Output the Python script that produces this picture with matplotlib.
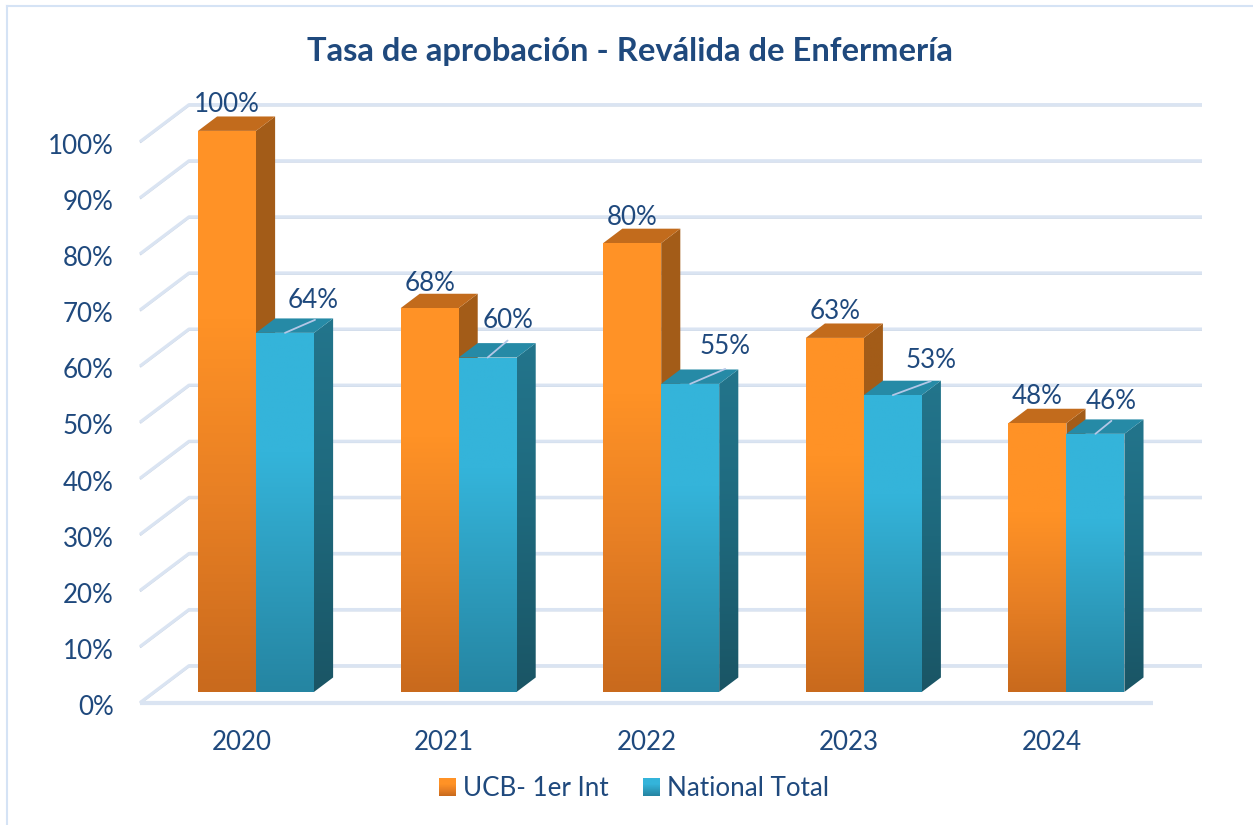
import matplotlib
matplotlib.use('Agg')  # Headless backend
import matplotlib.pyplot as plt
import numpy as np
from matplotlib.colors import LinearSegmentedColormap
from matplotlib.image import BboxImage
from matplotlib.legend_handler import HandlerBase
from matplotlib.patches import Patch, Polygon
from matplotlib.transforms import Bbox, ScaledTranslation, TransformedBbox

years = ['2020', '2021', '2022', '2023', '2024']
ucb_values = [100, 68.4, 80, 63.1, 47.9]
national_values = [64, 59.6, 54.9, 52.9, 46]
y_ticks = list(range(0, 101, 10))

# label nudges in pixels, from the middle of each bar's top front edge
ucb_nudge = [(0, 26), (0, 25), (0, 26), (0, 26), (0, 27)]
national_nudge = [(28, 32), (20, 37), (35, 37), (38, 35), (16, 32)]
leader_end = [(30, 13), (20, 17), (35, 15), (38, 14), (16, 13)]

TEXT = '#1F497D'
GRID = '#DAE4F2'
GRID_EDGE = '#C4CFDF'
FRAME = '#D5E3F5'
FONT = ['Lato', 'DejaVu Sans']
SIZE = 18.7

# pixel geometry of the fake 3D box
W, H = 1253, 825
LEFT, RIGHT, TOP, BOTTOM = 140, 1153, 142, 703
PX_X = (RIGHT - LEFT) / 5
PX_Y = (BOTTOM - TOP) / 100
WALL_X, WALL_Y = 49 / PX_X, 37 / PX_Y
BAR_W = 58 / PX_X
D_FRONT, D_BACK = 0.30, 0.69

orange_front = LinearSegmentedColormap.from_list('of', ['#C96A1D', '#E77F24', '#FF9226', '#FF9226'])
orange_side = LinearSegmentedColormap.from_list('os', ['#8A4E15', '#A35C18', '#A35C18'])
blue_front = LinearSegmentedColormap.from_list('bf', ['#2585A2', '#2D9CBD', '#34B4DA', '#34B4DA'])
blue_side = LinearSegmentedColormap.from_list('bs', ['#1A5565', '#1E687C', '#23758C'])
ORANGE_TOP = '#C26B1C'
BLUE_TOP = '#268AA6'
LEADER = '#B4C7E7'


def proj(x, y, d):
    return x + d * WALL_X, y + d * WALL_Y


def gradient_poly(ax, pts, cmap, z):
    xs = [p[0] for p in pts]
    ys = [p[1] for p in pts]
    grad = np.linspace(1, 0, 128).reshape(-1, 1)
    im = ax.imshow(grad, cmap=cmap, aspect='auto', vmin=0, vmax=1, zorder=z,
                   extent=(min(xs), max(xs), min(ys), max(ys)))
    clip = Polygon(pts, closed=True, transform=ax.transData, fill=False, edgecolor='none')
    im.set_clip_path(clip)
    # the images reach above the axes box, so clip to the figure instead
    im.set_clip_box(ax.figure.bbox)


def draw_bar(ax, x0, value, front, side, top_color, z):
    x1 = x0 + BAR_W
    a = proj(x0, value, D_FRONT)
    b = proj(x1, value, D_FRONT)
    c = proj(x1, value, D_BACK)
    e = proj(x0, value, D_BACK)
    f = proj(x0, 0, D_FRONT)
    g = proj(x1, 0, D_FRONT)
    h = proj(x1, 0, D_BACK)
    gradient_poly(ax, [b, c, h, g], side, z)
    ax.add_patch(Polygon([a, b, c, e], closed=True, facecolor=top_color, edgecolor='none',
                         zorder=z + 0.1, clip_on=False))
    gradient_poly(ax, [f, g, b, a], front, z + 0.2)


class GradientHandler(HandlerBase):
    def __init__(self, cmap):
        super().__init__()
        self.cmap = cmap

    def create_artists(self, legend, handle, xdescent, ydescent, width, height, fontsize, trans):
        box = Bbox([[-xdescent, -ydescent], [-xdescent + width, -ydescent + height]])
        img = BboxImage(TransformedBbox(box, trans), cmap=self.cmap, norm=plt.Normalize(0, 1))
        img.set_data(np.linspace(1, 0, 32).reshape(-1, 1))
        return [img]


fig = plt.figure(figsize=(W / 100, H / 100), dpi=100, facecolor='white')
ax = fig.add_axes([LEFT / W, (H - BOTTOM) / H, (RIGHT - LEFT) / W, (BOTTOM - TOP) / H])
ax.patch.set_visible(False)

# chart frame
for xs, ys in [((7, 7), (6, H)), ((7, W), (6, 6))]:
    fig.add_artist(plt.Line2D([v / W for v in xs], [1 - v / H for v in ys], color=FRAME, lw=1.5))

# side wall, back wall and floor lines
for t in y_ticks:
    p0 = proj(-0.5, t, 0)
    p1 = proj(-0.5, t, 1)
    p2 = proj(4.5, t, 1)
    ax.plot([p0[0], p1[0], p2[0]], [p0[1] - 0.08, p1[1] - 0.08, p2[1] - 0.08], color=GRID_EDGE, lw=1.5,
            solid_capstyle='butt', clip_on=False, zorder=1)
    ax.plot([p0[0], p1[0], p2[0]], [p0[1] + 0.06, p1[1] + 0.06, p2[1] + 0.06], color=GRID, lw=2.3,
            solid_capstyle='butt', clip_on=False, zorder=1.1)
ax.plot([-0.5, 4.5], [0, 0], color=GRID, lw=3.0, solid_capstyle='butt', clip_on=False, zorder=1.1)

for i in range(len(years)):
    draw_bar(ax, i - BAR_W, ucb_values[i], orange_front, orange_side, ORANGE_TOP, 2 + i * 2)
    draw_bar(ax, i, national_values[i], blue_front, blue_side, BLUE_TOP, 3 + i * 2)

    ox, oy = proj(i - BAR_W / 2, ucb_values[i], D_FRONT)
    ax.annotate(f'{ucb_values[i]:.0f}%', (ox, oy), xytext=ucb_nudge[i], textcoords='offset pixels',
                ha='center', va='center', fontsize=SIZE, color=TEXT, family=FONT, zorder=30,
                annotation_clip=False)
    bx, by = proj(i + BAR_W / 2, national_values[i], D_FRONT)
    ax.annotate('', (bx, by), xytext=leader_end[i], textcoords='offset pixels', annotation_clip=False,
                arrowprops=dict(arrowstyle='-', color=LEADER, lw=1.3, shrinkA=0, shrinkB=0), zorder=29)
    ax.annotate(f'{national_values[i]:.0f}%', (bx, by), xytext=national_nudge[i], textcoords='offset pixels',
                ha='center', va='center', fontsize=SIZE, color=TEXT, family=FONT, zorder=30,
                annotation_clip=False)

ax.set_xlim(-0.5, 4.5)
ax.set_ylim(0, 100)
ax.set_xticks(range(len(years)))
ax.set_xticklabels(years, family=FONT, fontsize=SIZE, color=TEXT)
ax.set_yticks(y_ticks)
ax.set_yticklabels([f'{t}%' for t in y_ticks], family=FONT, fontsize=SIZE, color=TEXT)
ax.tick_params(axis='x', length=0, pad=19.5)
ax.tick_params(axis='y', length=0, pad=19)
shift = ScaledTranslation(0, -2 / 100, fig.dpi_scale_trans)
for lab in ax.get_yticklabels():
    lab.set_transform(lab.get_transform() + shift)
for s in ax.spines.values():
    s.set_visible(False)

fig.text(630 / W, 1 - 51 / H, 'Tasa de aprobación - Reválida de Enfermería', ha='center', va='center',
         fontsize=23.6, fontweight='bold', color=TEXT, family=FONT)

handles = [Patch(label='UCB- 1er Int'), Patch(label='National Total')]
fig.legend(handles=handles, loc='center', bbox_to_anchor=(634 / W, 1 - 789 / H), ncol=2, frameon=False,
           prop={'family': FONT, 'size': SIZE}, labelcolor=TEXT, handlelength=0.65, handleheight=0.65,
           handletextpad=0.27, columnspacing=1.36, borderpad=0,
           handler_map={handles[0]: GradientHandler(orange_front), handles[1]: GradientHandler(blue_front)})

fig.savefig('out.png', dpi=100)
plt.close(fig)
